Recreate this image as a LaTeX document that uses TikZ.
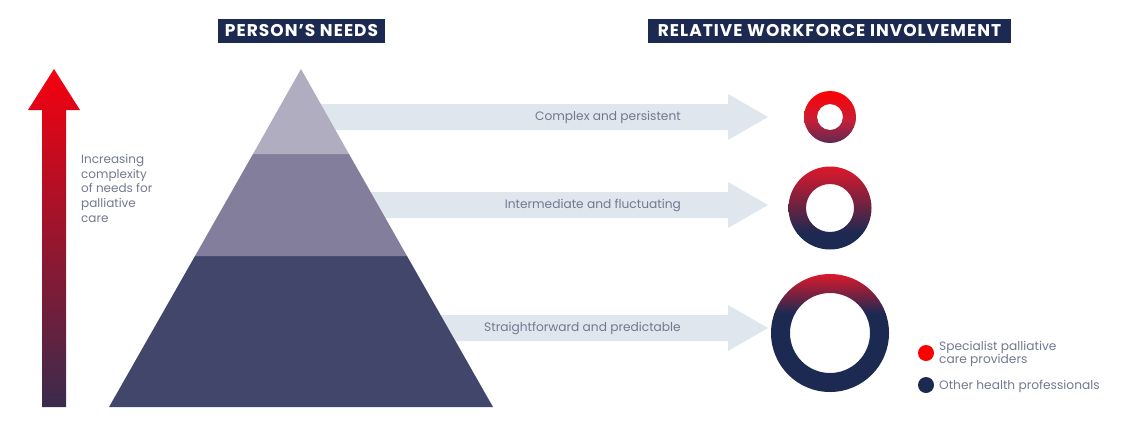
\documentclass[tikz,border=0pt]{standalone}
\usepackage{fontspec}
\setmainfont{Poppins}
\usetikzlibrary{calc}
\definecolor{navy}{HTML}{1C2A52}
\definecolor{brightred}{HTML}{F5000F}
\definecolor{ringred}{HTML}{E0182A}
\definecolor{ringmid}{HTML}{C81E36}
\definecolor{arrowpurple}{HTML}{3B2B4D}
\definecolor{ringpurple}{HTML}{5A2A55}
\definecolor{pyrtop}{HTML}{B0ADC0}
\definecolor{pyrmid}{HTML}{837E9C}
\definecolor{pyrbot}{HTML}{43466B}
\definecolor{bandgray}{HTML}{DFE6ED}
\definecolor{textgray}{HTML}{737890}
\tikzset{
  titlebox/.style={fill=navy, text=white, inner sep=0pt, minimum height=24pt,
    font=\fontsize{17}{17}\selectfont\bfseries\addfontfeature{LetterSpace=6}},
  bandlabel/.style={text=textgray, inner sep=0pt, anchor=east, font=\fontsize{12.2}{14}\selectfont},
  sidelabel/.style={text=textgray, inner sep=0pt, align=left, font=\fontsize{12}{14.7}\selectfont},
  band/.style={fill=bandgray, draw=none},
}
\begin{document}
\begin{tikzpicture}[x=1pt,y=1pt]
\useasboundingbox (0,-424) rectangle (1147,0);
% titles
\node[titlebox, minimum width=167pt] (t1) at (301.5,-31) {PERSON’S NEEDS};
\node[titlebox, minimum width=363pt] (t2) at (829.5,-31) {RELATIVE WORKFORCE INVOLVEMENT};
% vertical arrow
\shade[top color=brightred, bottom color=arrowpurple]
  (42,-407) -- (42,-110) -- (28,-110) -- (54,-69) -- (80,-110) -- (66,-110) -- (66,-407) -- cycle;
\node[sidelabel, anchor=north west] (side) at (81,-154)
  {Increasing\\complexity\\of needs for\\palliative\\care};
% bands
\fill[band] (300,-104) -- (728,-104) -- (728,-94) -- (768,-117) -- (728,-140) -- (728,-130) -- (300,-130) -- cycle;
\fill[band] (300,-192) -- (728,-192) -- (728,-182) -- (768,-205) -- (728,-228) -- (728,-218) -- (300,-218) -- cycle;
\fill[band] (300,-315) -- (728,-315) -- (728,-305) -- (768,-328) -- (728,-351) -- (728,-341) -- (300,-341) -- cycle;
% pyramid
\coordinate (apex) at (301,-69);
\fill[pyrbot] (195,-256) -- (407,-256) -- (493,-407) -- (109,-407) -- cycle;
\fill[pyrmid] (253,-154) -- (349,-154) -- (407,-256) -- (195,-256) -- cycle;
\fill[pyrtop] (apex) -- (349,-154) -- (253,-154) -- cycle;
% band labels
\node[bandlabel] (l1) at (681,-117) {Complex and persistent};
\node[bandlabel] (l2) at (681,-205) {Intermediate and fluctuating};
\node[bandlabel] (l3) at (681,-328) {Straightforward and predictable};
% rings
\begin{scope}[even odd rule]
  \clip (830,-117) circle[radius=26] (830,-117) circle[radius=13];
  \shade[top color=red, bottom color=ringmid] (804,-90) rectangle (856,-120);
  \shade[top color=ringmid, bottom color=ringpurple] (804,-119.5) rectangle (856,-144);
\end{scope}
\begin{scope}[even odd rule]
  \clip (830,-208) circle[radius=41.5] (830,-208) circle[radius=24];
  \fill[navy] (788,-233) rectangle (872,-250);
  \shade[top color=ringred, bottom color=navy] (788,-166) rectangle (872,-233);
\end{scope}
\begin{scope}[even odd rule]
  \clip (830,-333) circle[radius=59] (830,-333) circle[radius=40];
  \fill[navy] (770,-313) rectangle (890,-393);
  \shade[top color=ringred, bottom color=navy] (770,-273) rectangle (890,-313.5);
\end{scope}
% legend
\fill[red] (926,-353) circle[radius=8];
\fill[navy] (926,-385) circle[radius=8];
\node[sidelabel, anchor=west, font=\fontsize{12.2}{12.7}\selectfont] (lg1) at (939,-354) {Specialist palliative\\care providers};
\node[bandlabel, anchor=west] (lg2) at (939,-386) {Other health professionals};
\end{tikzpicture}
\end{document}
